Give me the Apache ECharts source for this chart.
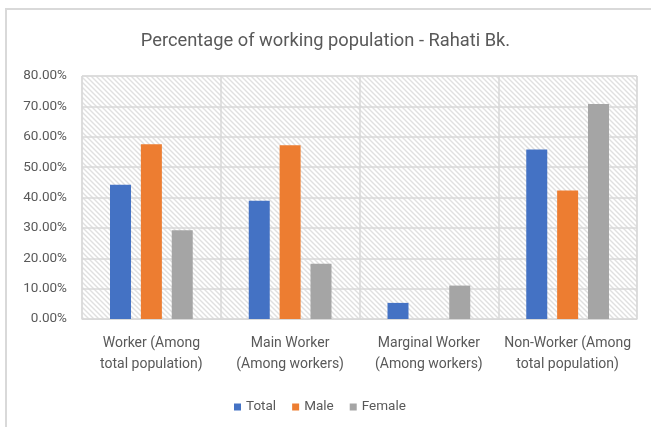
<!DOCTYPE html>
<html>
<head>
<meta charset="utf-8">
<title>Percentage of working population</title>
<script src="https://cdn.jsdelivr.net/npm/echarts@6/dist/echarts.min.js"></script>
<style>
  html, body { margin: 0; padding: 0; background: #fff; }
  #frame {
    position: absolute; left: 5px; top: 8px; width: 700px; height: 500px;
    border-left: 2px solid #d9d9d9; border-top: 2px solid #d9d9d9;
  }
  #chart { position: absolute; left: 0; top: 0; width: 651px; height: 427px; }
</style>
</head>
<body>
<div id="frame"></div>
<div id="chart"></div>
<script>
  var categories = ['Worker (Among\ntotal population)', 'Main Worker\n(Among workers)', 'Marginal Worker\n(Among workers)', 'Non-Worker (Among\ntotal population)'];
  var totalVals = [44.2, 38.9, 5.3, 55.8];
  var maleVals = [57.5, 57.2, 0, 42.3];
  var femaleVals = [29.2, 18.2, 11.0, 70.8];
  var seriesNames = ['Total', 'Male', 'Female'];
  var colors = ['#4472c4', '#ed7d31', '#a5a5a5'];

  // hatched plot background (diagonal lines)
  function makeHatch() {
    var c = document.createElement('canvas');
    c.width = 5; c.height = 5;
    var ctx = c.getContext('2d');
    ctx.fillStyle = '#ffffff';
    ctx.fillRect(0, 0, 5, 5);
    ctx.strokeStyle = '#e0e0e0';
    ctx.lineWidth = 1.4;
    ctx.beginPath();
    ctx.moveTo(-1, -1); ctx.lineTo(6, 6);
    ctx.moveTo(-1, 4); ctx.lineTo(1, 6);
    ctx.moveTo(4, -1); ctx.lineTo(6, 1);
    ctx.stroke();
    return c;
  }

  var chart = echarts.init(document.getElementById('chart'), null, { renderer: 'canvas' });
  var dataSets = [totalVals, maleVals, femaleVals];
  var series = [];
  for (var i = 0; i < seriesNames.length; i++) {
    series.push({
      name: seriesNames[i],
      type: 'bar',
      data: dataSets[i],
      barWidth: 21,
      barGap: '47%',
      itemStyle: { color: colors[i] }
    });
  }

  var option = {
    animation: false,
    backgroundColor: 'transparent',
    textStyle: { fontFamily: 'Roboto', color: '#595959' },
    title: {
      text: 'Percentage of working population - Rahati Bk.',
      left: 'center',
      top: 27,
      textStyle: { fontFamily: 'Roboto', fontSize: 18.3, fontWeight: 'normal', color: '#595959' }
    },
    legend: {
      data: seriesNames,
      left: 229,
      top: 395,
      itemWidth: 7,
      itemHeight: 7,
      itemGap: 16,
      icon: 'rect',
      textStyle: { fontFamily: 'Roboto', fontSize: 13.5, color: '#595959' }
    },
    grid: {
      left: 82,
      right: 14,
      top: 76,
      bottom: 108,
      show: true,
      backgroundColor: { image: makeHatch(), repeat: 'repeat' },
      borderColor: '#d9d9d9',
      borderWidth: 1
    },
    xAxis: {
      type: 'category',
      data: categories,
      axisLine: { lineStyle: { color: '#d9d9d9' } },
      axisTick: { show: false },
      splitLine: { show: true, lineStyle: { color: '#d9d9d9', width: 1.5 } },
      axisLabel: { fontFamily: 'Roboto', fontSize: 14, color: '#595959', margin: 14, lineHeight: 21, interval: 0 }
    },
    yAxis: {
      type: 'value',
      min: 0,
      max: 80,
      interval: 10,
      axisLine: { show: false },
      axisTick: { show: false },
      splitLine: { lineStyle: { color: '#d9d9d9', width: 1.5 } },
      axisLabel: {
        fontFamily: 'Roboto', fontSize: 13.5, color: '#595959', margin: 15,
        formatter: function (v) { return v.toFixed(2) + '%'; }
      }
    },
    series: series
  };
  chart.setOption(option);
</script>
</body>
</html>
